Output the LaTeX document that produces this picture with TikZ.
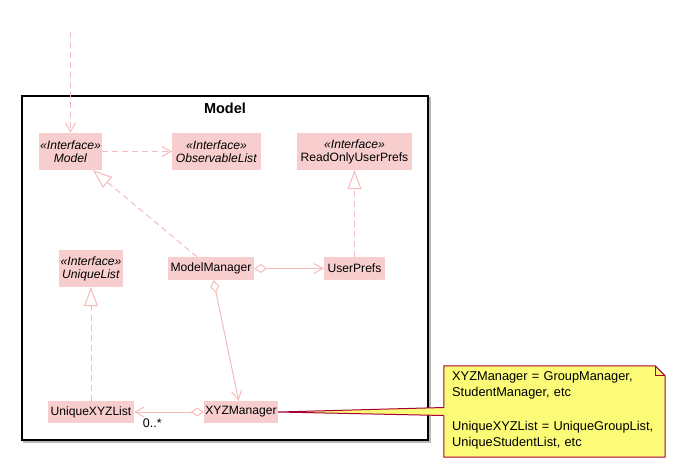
\documentclass[tikz,border=0pt]{standalone}
\usepackage{fontspec}
\setmainfont{Liberation Sans}
\usepackage{tikz}
\usetikzlibrary{positioning,arrows.meta,calc}

\definecolor{umlfill}{RGB}{247,206,205}
\definecolor{umlline}{RGB}{244,188,188}
\definecolor{notefill}{RGB}{251,251,119}
\definecolor{noteline}{RGB}{168,0,54}

\newcommand{\ifacetag}{\textit{«Interface»}}

\begin{document}
\begin{tikzpicture}[x=1pt,y=1pt,yscale=-1,xscale=1,
  classbox/.style={fill=umlfill, inner sep=0pt, align=center, font=\fontsize{12.1}{13}\selectfont},
  depend/.style={draw=umlline, line width=1pt, dash pattern=on 6pt off 4pt, -{Straight Barb[length=9pt,width=10pt]}},
  realize/.style={draw=umlline, line width=1pt, dash pattern=on 6pt off 4pt, -{Triangle[open,length=19pt,width=14pt]}},
  aggreg/.style={draw=umlline, line width=1pt, {Diamond[open,length=13pt,width=9pt]}-{Straight Barb[length=9pt,width=10pt]}}
]
%set diagram size
\useasboundingbox (0,0) rectangle (676,468);

%Shape: Package frame
\draw [gray!55, line width=1.5pt] (24,98) rectangle (430,442);
\node [draw=black, fill=white, line width=1.2pt, minimum width=406, minimum height=344, inner sep=0pt] (pkg) at (225,268) {};
% Text Node
\node [font=\bfseries\fontsize{14.5}{16}\selectfont] (pkgtitle) at (225,108) {Model};

%Shape: Classes
\node [classbox, minimum width=63, minimum height=37] (model) at (70.5,151.5) {\ifacetag\\\textit{Model}};
\node [classbox, minimum width=89, minimum height=37] (obslist) at (216.5,151.5) {\ifacetag\\\textit{ObservableList}};
\node [classbox, minimum width=115, minimum height=37] (roprefs) at (354.5,151.5) {\ifacetag\\ReadOnlyUserPrefs};
\node [classbox, minimum width=64, minimum height=37] (uniqlist) at (91,268.5) {\ifacetag\\\textit{UniqueList}};
\node [classbox, minimum width=86, minimum height=23] (modelmgr) at (211,268.5) {ModelManager};
\node [classbox, minimum width=61, minimum height=23] (userprefs) at (354.5,268.5) {UserPrefs};
\node [classbox, minimum width=86, minimum height=22] (uniqxyz) at (91,412) {UniqueXYZList};
\node [classbox, minimum width=74, minimum height=22] (xyzmgr) at (241,412) {XYZManager};

%Shape: Connectors
\coordinate (ext) at (70.5,32);
\draw [depend] (ext) -- (model);
\draw [depend] (model) -- (obslist);
\draw [realize] (modelmgr) -- (model);
\draw [realize] (userprefs) -- (roprefs);
\draw [realize] (uniqxyz) -- (uniqlist);
\draw [aggreg] (modelmgr) -- (userprefs);
\draw [aggreg] (modelmgr) -- (xyzmgr);
\draw [aggreg] (xyzmgr) -- node [pos=0.74, yshift=-11pt, font=\fontsize{12.5}{13}\selectfont] (mult) {0..*} (uniqxyz);

%Shape: Note
\node [minimum width=221, minimum height=91, text width=205, inner xsep=8pt, inner ysep=0pt, align=left] (note) at (554.5,411.5) {};
\draw [fill=notefill, draw=noteline, line width=1pt] (note.north west) -- ($(note.north east)+(-10,0)$) -- ($(note.north east)+(0,10)$) -- (note.south east) -- (note.south west) -- cycle;
\draw [noteline, line width=1pt] ($(note.north east)+(-10,0)$) -- ($(note.north east)+(-10,10)$) -- ($(note.north east)+(0,10)$);
\fill [notefill] (xyzmgr.east) -- ($(note.west)+(1,-4)$) -- ($(note.west)+(1,4)$) -- cycle;
\draw [noteline, line width=1pt] ($(note.west)+(0,-4)$) -- (xyzmgr.east) -- ($(note.west)+(0,4)$);
% Text Node
\node [text width=210, inner sep=0pt, align=left, anchor=north west, font=\fontsize{12.8}{16}\selectfont] (notetext) at (452,371) {XYZManager = GroupManager,\\StudentManager, etc\\[18pt]UniqueXYZList = UniqueGroupList,\\UniqueStudentList, etc};

\end{tikzpicture}
\end{document}
